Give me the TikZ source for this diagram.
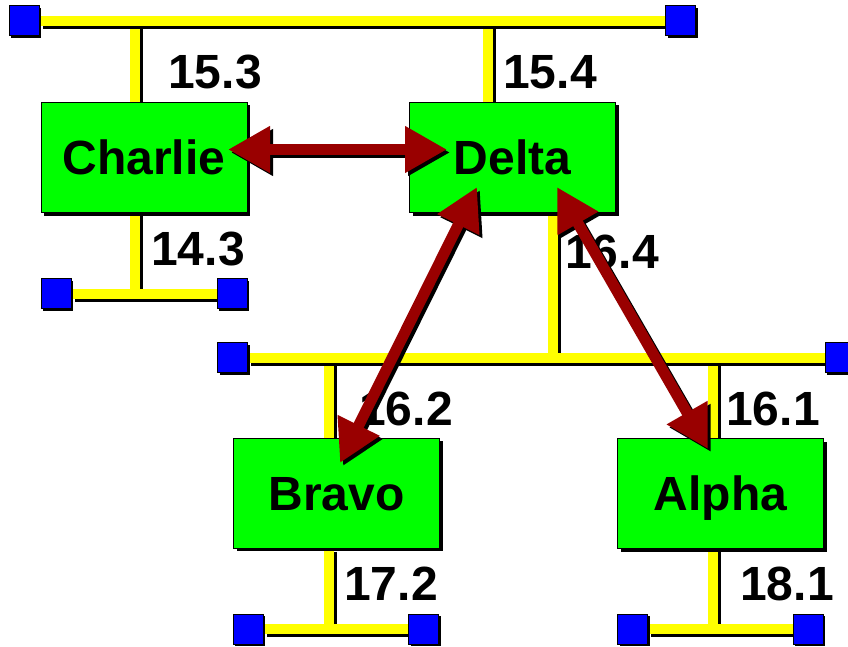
\documentclass[tikz,border=0pt]{standalone}
\usepackage{fontspec}
\setmainfont{Liberation Sans}
\usetikzlibrary{arrows.meta,shadows}
\pgfdeclarelayer{bg}
\pgfsetlayers{bg,main}
\definecolor{netyellow}{RGB}{255,255,0}
\definecolor{hostgreen}{RGB}{0,255,0}
\definecolor{termblue}{RGB}{0,0,255}
\definecolor{linkred}{RGB}{153,0,0}
\newcommand{\netline}[2]{\draw[wireshadow] #1 -- #2; \draw[wire] #1 -- #2;}
\newcommand{\linkarrow}[2]{\draw[link, linkshadow] #1 -- #2; \draw[link] #1 -- #2;}
\begin{document}
\begin{tikzpicture}[x=1pt,y=-1pt,
  solidshadow/.style={drop shadow={shadow xshift=3pt, shadow yshift=-3pt, opacity=1, fill=black}},
  host/.style={draw=black, line width=1pt, fill=hostgreen, minimum width=206pt, minimum height=110pt,
    inner sep=0pt, font=\fontsize{48}{48}\selectfont\bfseries, text height=34pt, text depth=0pt, solidshadow},
  term/.style={draw=black, line width=1pt, fill=termblue, minimum size=30pt, inner sep=0pt,
    drop shadow={shadow xshift=2pt, shadow yshift=-2pt, opacity=1, fill=black}},
  addr/.style={font=\fontsize{48}{48}\selectfont\bfseries, anchor=base, inner sep=0pt},
  wire/.style={line width=10pt, draw=netyellow},
  wireshadow/.style={line width=10pt, draw=black, transform canvas={xshift=3pt, yshift=-3pt}},
  link/.style={line width=11pt, draw=linkred, fill=linkred,
    {Triangle[length=42pt,width=44pt]}-{Triangle[length=42pt,width=44pt]}},
  linkshadow/.style={draw=black, fill=black, transform canvas={xshift=3pt, yshift=-3pt}}]
\useasboundingbox (0,0) rectangle (848,647);

% hosts
\node[host] (charlie) at (144,157.5) {Charlie};
\node[host] (delta) at (512.5,157.5) {Delta};
\node[host] (bravo) at (336.5,493) {Bravo};
\node[host] (alpha) at (720.5,493.5) {Alpha};

% terminators
\node[term] (tl) at (24,21) {};
\node[term] (tr) at (680.5,21) {};
\node[term] (cl) at (56,293.5) {};
\node[term] (cr) at (232,293.5) {};
\node[term] (ml) at (232.5,357.5) {};
\node[term] (mr) at (840,357.5) {};
\node[term] (bl) at (248,629) {};
\node[term] (br) at (423.5,629) {};
\node[term] (al) at (632.5,629) {};
\node[term] (ar) at (808,629) {};

\begin{pgfonlayer}{bg}
  % drops
  \netline{([xshift=-9pt]charlie.north)}{([xshift=-9pt]charlie.north |- tl.center)}
  \netline{([xshift=-9pt]charlie.south)}{([xshift=-9pt]charlie.south |- cl.center)}
  \netline{([xshift=-24.5pt]delta.north)}{([xshift=-24.5pt]delta.north |- tl.center)}
  \netline{([xshift=40.5pt]delta.south)}{([xshift=40.5pt]delta.south |- ml.center)}
  \netline{([xshift=-8pt]bravo.north)}{([xshift=-8pt]bravo.north |- ml.center)}
  \netline{([xshift=-8pt]bravo.south)}{([xshift=-8pt]bravo.south |- bl.center)}
  \netline{([xshift=-7.5pt]alpha.north)}{([xshift=-7.5pt]alpha.north |- ml.center)}
  \netline{([xshift=-7.5pt]alpha.south)}{([xshift=-7.5pt]alpha.south |- al.center)}
  % buses
  \netline{(tl.east)}{(tr.west)}
  \netline{(cl.east)}{(cr.west)}
  \netline{(ml.east)}{(mr.west)}
  \netline{(bl.east)}{(br.west)}
  \netline{(al.east)}{(ar.west)}
\end{pgfonlayer}

% addresses
\node[addr] (a153) at (215,89) {15.3};
\node[addr] (a154) at (550,89) {15.4};
\node[addr] (a143) at (198,265) {14.3};
\node[addr] (a164) at (612,268) {16.4};
\node[addr] (a162) at (406,425) {16.2};
\node[addr] (a161) at (773,425) {16.1};
\node[addr] (a172) at (391,600) {17.2};
\node[addr] (a181) at (787,600) {18.1};

% links
\coordinate (cdC) at (228,149.5);
\coordinate (cdD) at (447,149.5);
\coordinate (dbD) at (477,187);
\coordinate (dbB) at (340,463);
\coordinate (daD) at (557,187);
\coordinate (daA) at (708,449);
\linkarrow{(cdC)}{(cdD)}
\linkarrow{(dbD)}{(dbB)}
\linkarrow{(daD)}{(daA)}
\end{tikzpicture}
\end{document}
